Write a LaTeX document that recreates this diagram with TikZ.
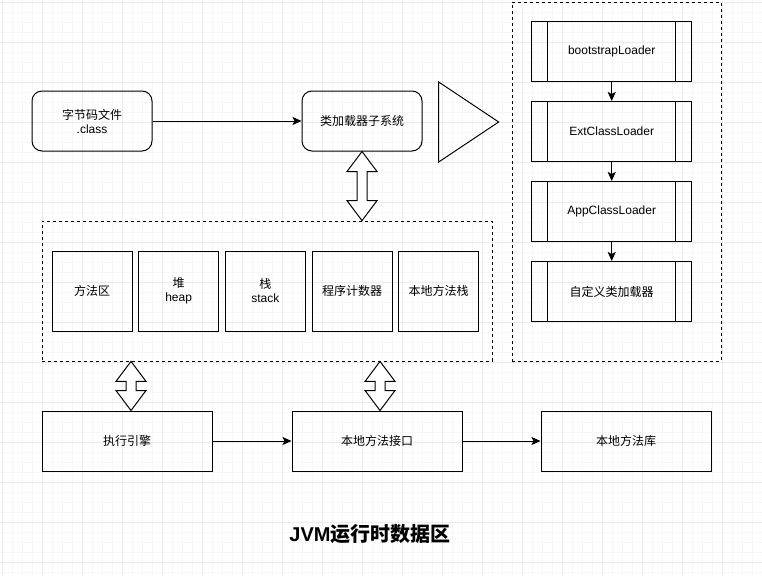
\documentclass[tikz,border=0pt]{standalone}
\usepackage{fontspec}
\setmainfont{Liberation Sans}
\newfontfamily\cjk{Noto Sans CJK SC}
\usepackage{tikz}
\usetikzlibrary{positioning,calc,arrows.meta,shapes.geometric}

% hollow two-headed arrow from #1 (top tip) to #2 (bottom tip)
\newcommand\fatarrow[2]{%
  \draw[fill=white] let \p1=(#1), \p2=(#2) in
    (\x1,\y1) -- (\x1+11.25pt,\y1-15pt) -- (\x1+3.75pt,\y1-15pt)
    -- (\x1+3.75pt,\y2+15pt) -- (\x1+11.25pt,\y2+15pt) -- (\x1,\y2)
    -- (\x1-11.25pt,\y2+15pt) -- (\x1-3.75pt,\y2+15pt)
    -- (\x1-3.75pt,\y1-15pt) -- (\x1-11.25pt,\y1-15pt) -- cycle;}

\begin{document}
\begin{tikzpicture}[x=0.75pt,y=-0.75pt,node distance=2cm,on grid,line width=0.75pt,
    >={Stealth[length=6.75pt,width=6pt,inset=1.5pt]},
    font=\fontsize{9pt}{10.5pt}\selectfont]
    \tikzset{rounded/.style={draw,rectangle,rounded corners=7.5pt,minimum width=90pt,minimum height=45pt,align=center}}
    \tikzset{box/.style={draw,rectangle,minimum width=127.5pt,minimum height=45pt,align=center}}
    \tikzset{cell/.style={draw,rectangle,minimum width=60pt,minimum height=60pt,align=center}}
    \tikzset{group/.style={draw,rectangle,dash pattern=on 2.25pt off 2.25pt,line width=0.6pt}}
    \tikzset{loader/.style={draw,rectangle,minimum width=120pt,minimum height=45pt,
      path picture={
        \draw ([xshift=12pt]path picture bounding box.north west) -- ([xshift=12pt]path picture bounding box.south west);
        \draw ([xshift=-12pt]path picture bounding box.north east) -- ([xshift=-12pt]path picture bounding box.south east);}}}
    \tikzset{minorline/.style={draw=gray!7,line width=0.5pt},majorline/.style={draw=gray!16,line width=0.6pt}}
    \useasboundingbox[fill=white] (0,0) rectangle (762,575);
    % background grid
    \foreach \g in {0,...,76} {\draw[minorline] (\g*10+2,0) -- (\g*10+2,575);}
    \foreach \g in {0,...,57} {\draw[minorline] (0,\g*10+2) -- (762,\g*10+2);}
    \foreach \g in {0,...,19} {\draw[majorline] (\g*40+2,0) -- (\g*40+2,575);}
    \foreach \g in {0,...,14} {\draw[majorline] (0,\g*40+2) -- (762,\g*40+2);}

    \node[rounded] (cls) at (92,121) {{\cjk 字节码文件}\\.class};
    \node[rounded] (ldr) at (362,121) {\cjk 类加载器子系统};
    \node[draw,isosceles triangle,isosceles triangle stretches,inner sep=0pt,
      minimum height=45pt,minimum width=60pt,anchor=apex] (tri) at (500,122) {};

    % runtime data area
    \node[group,minimum width=337.5pt,minimum height=105pt] (rt) at (267,291) {};
    \node[cell] (m1) at (92,291) {\cjk 方法区};
    \node[cell,right=65pt of m1] (m2) {{\cjk 堆}\\heap};
    \node[cell,right=65pt of m2] (m3) {{\cjk 栈}\\stack};
    \node[cell,right=65pt of m3] (m4) {\cjk 程序计数器};
    \node[cell,right=65pt of m4] (m5) {\cjk 本地方法栈};

    \node[box] (exe) at (127,441) {\cjk 执行引擎};
    \node[box] (jni) at (377,441) {\cjk 本地方法接口};
    \node[box] (lib) at (626,441) {\cjk 本地方法库};

    % class loaders
    \node[group,minimum width=156.75pt,minimum height=269.25pt] (lc) at (616.5,181.5) {};
    \node[loader] (bl) at (611.7,51.5) {bootstrapLoader};
    \node[loader,below=60pt of bl] (el) {ExtClassLoader};
    \node[loader,below=60pt of el] (al) {AppClassLoader};
    \node[loader,below=60pt of al] (cl) {\cjk 自定义类加载器};

    \node[font=\bfseries\fontsize{15pt}{18pt}\selectfont] (title) at (370,534) {JVM{\cjk 运行时数据区}};

    \path[->]
    (cls) edge (ldr)
    (bl) edge (el)
    (el) edge (al)
    (al) edge (cl)
    (exe) edge (jni)
    (jni) edge (lib)
    ;
    \coordinate (a1) at ([xshift=3pt]exe.north);
    \coordinate (a2) at ([xshift=2.25pt]jni.north);
    \fatarrow{ldr.south}{ldr.south |- rt.north}
    \fatarrow{a1 |- rt.south}{a1}
    \fatarrow{a2 |- rt.south}{a2}
  \end{tikzpicture}
\end{document}
